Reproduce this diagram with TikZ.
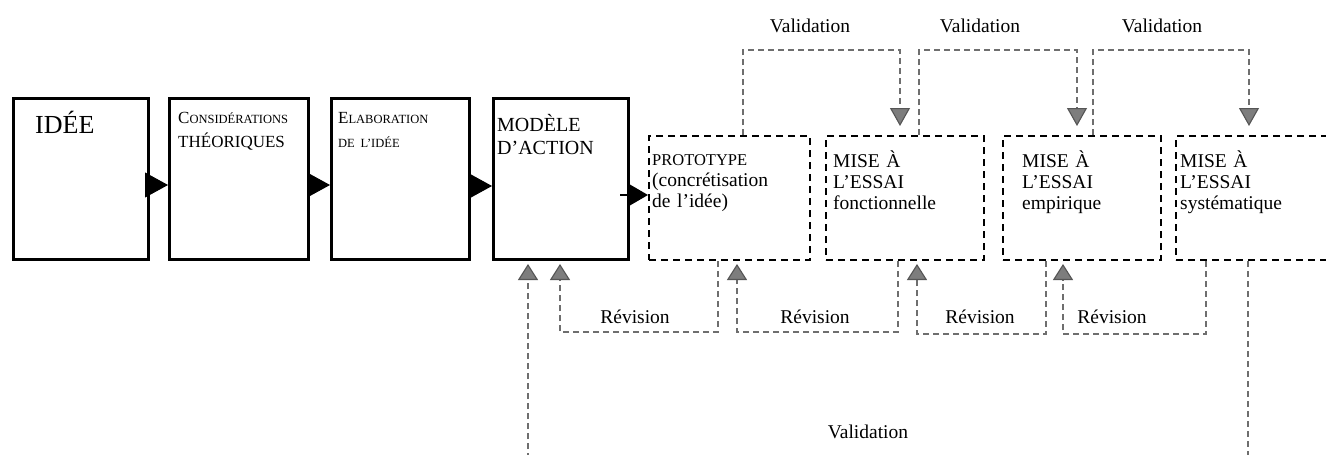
\documentclass[tikz,border=0pt]{standalone}
\usepackage{fontspec}
\setmainfont{Liberation Serif}
\usetikzlibrary{arrows.meta}

\definecolor{loopgray}{RGB}{110,110,110}
\definecolor{tipfill}{RGB}{125,125,125}
\definecolor{tipedge}{RGB}{85,85,85}

% capital followed by reduced capitals (imitation small caps)
\newcommand\capl[1]{{\fontsize{17}{24}\selectfont #1}}
\newcommand\caps[1]{{\fontsize{12.5}{24}\selectfont #1}}

\begin{document}
\begin{tikzpicture}[x=1pt,y=-1pt,
  solidbox/.style={draw, line width=3pt, inner sep=0pt, anchor=north west},
  dashbox/.style={draw, line width=2pt, dash pattern=on 7pt off 5pt, inner sep=0pt, anchor=north west},
  loopline/.style={draw=loopgray, line width=1.1pt, dash pattern=on 6pt off 4pt},
  uptip/.style={-{Triangle[length=16pt,width=20pt,fill=tipfill,color=tipedge]}, shorten >=3pt},
  downtip/.style={-{Triangle[length=18pt,width=20pt,fill=tipfill,color=tipedge]}, shorten >=9pt},
  blackarrow/.style={line width=1pt, -{Triangle[length=23pt,width=25pt]}},
  boxtext/.style={anchor=base west, inner sep=0pt, text width=150pt, align=left},
  looplabel/.style={anchor=base, inner sep=0pt, font=\fontsize{19.5}{22}\selectfont},
]
\clip (0,0) rectangle (1326,455);
\fill[white] (0,0) rectangle (1326,455);

% solid boxes
\node[solidbox, minimum width=135pt, minimum height=161pt] (b1) at (12,97) {};
\node[solidbox, minimum width=139pt, minimum height=161pt] (b2) at (168,97) {};
\node[solidbox, minimum width=138pt, minimum height=161pt] (b3) at (330,97) {};
\node[solidbox, minimum width=135pt, minimum height=161pt] (b4) at (492,97) {};

% dashed boxes
\node[dashbox, minimum width=161pt, minimum height=124pt] (d1) at (648,135) {};
\node[dashbox, minimum width=158pt, minimum height=124pt] (d2) at (825,135) {};
\node[dashbox, minimum width=158pt, minimum height=124pt] (d3) at (1002,135) {};
\node[dashbox, minimum width=200pt, minimum height=124pt] (d4) at (1175,135) {};

% box texts
\node[boxtext, font=\fontsize{26}{30}\selectfont] (t1) at (35,133) {IDÉE};
\node[boxtext, font=\fontsize{17}{24}\selectfont] (t2) at (178,123)
  {\capl{C}\caps{ONSIDÉRATIONS}\\\capl{THÉORIQUES}};
\node[boxtext, font=\fontsize{17}{24}\selectfont] (t3) at (338,123)
  {\capl{E}\caps{LABORATION}\\\caps{DE L’IDÉE}};
\node[boxtext, font=\fontsize{20}{23}\selectfont] (t4) at (497,131) {MODÈLE\\D’ACTION};
\node[boxtext, font=\fontsize{19.5}{21}\selectfont] (t5) at (652,165)
  {{\fontsize{16.5}{21}\selectfont PROTOTYPE}\\(concrétisation\\de l’idée)};
\node[boxtext, font=\fontsize{19.5}{21}\selectfont] (t6) at (833,167) {MISE À\\L’ESSAI\\fonctionnelle};
\node[boxtext, font=\fontsize{19.5}{21}\selectfont] (t7) at (1022,167) {MISE À\\L’ESSAI\\empirique};
\node[boxtext, font=\fontsize{19.5}{21}\selectfont] (t8) at (1180,167) {MISE À\\L’ESSAI\\systématique};

% forward arrows
\draw[blackarrow] (b1.east |- 0,185) -- (b2.west |- 0,185);
\draw[blackarrow] (b2.east |- 0,185) -- (b3.west |- 0,185);
\draw[blackarrow] (b3.east |- 0,186) -- (b4.west |- 0,186);
\draw[line width=1.5pt, -{Triangle[length=21pt,width=24pt]}]
  ([xshift=-10pt]b4.east |- 0,195) -- (d1.west |- 0,195);

% validation loops (top)
\draw[loopline, downtip] (d1.north -| 743,0) -- (743,50) -| (d2.north -| 900,0);
\draw[loopline, downtip] (d2.north -| 919,0) -- (919,50) -| (d3.north -| 1077,0);
\draw[loopline, downtip] (d3.north -| 1093,0) -- (1093,50) -| (d4.north -| 1249,0);
\node[looplabel] (v1) at (810,32) {Validation};
\node[looplabel] (v2) at (980,32) {Validation};
\node[looplabel] (v3) at (1162,32) {Validation};

% revision loops (bottom)
\draw[loopline, uptip] (d1.south -| 718,0) -- (718,332) -| (b4.south -| 560,0);
\draw[loopline, uptip] (d2.south -| 898,0) -- (898,332) -| (d1.south -| 737,0);
\draw[loopline, uptip] (d3.south -| 1046,0) -- (1046,334) -| (d2.south -| 917,0);
\draw[loopline, uptip] (d4.south -| 1206,0) -- (1206,334) -| (d3.south -| 1063,0);
\node[looplabel] (r1) at (635,323) {Révision};
\node[looplabel] (r2) at (815,323) {Révision};
\node[looplabel] (r3) at (980,323) {Révision};
\node[looplabel] (r4) at (1112,323) {Révision};

% global validation loop
\draw[loopline, uptip] (d4.south -| 1248,0) -- (1248,480) -| (b4.south -| 528,0);
\node[looplabel] (v4) at (868,438) {Validation};
\end{tikzpicture}
\end{document}
